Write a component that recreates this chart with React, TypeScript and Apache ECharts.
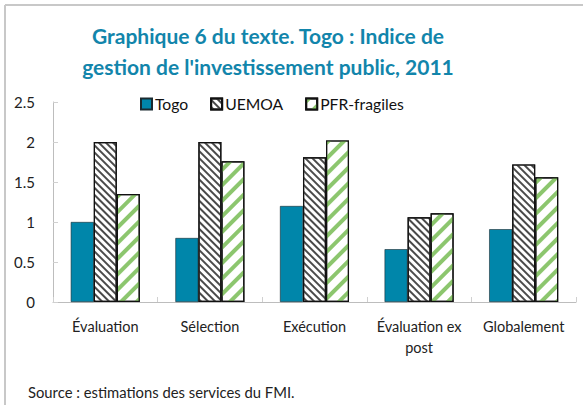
import React, { useEffect, useRef } from "react";
import * as echarts from "echarts";

const categories = ["Évaluation", "Sélection", "Exécution", "Évaluation ex\npost", "Globalement"];
const togo = [1.0, 0.8, 1.2, 0.66, 0.91];
const uemoa = [2.0, 2.0, 1.81, 1.06, 1.72];
const pfr = [1.35, 1.76, 2.02, 1.11, 1.56];
const seriesNames = ["Togo", "UEMOA", "PFR-fragiles"];
const titleText = "Graphique 6 du texte. Togo : Indice de\ngestion de l'investissement public, 2011";
const sourceText = "Source : estimations des services du FMI.";

const FONT = "Lato";

export default function App() {
  const ref = useRef<HTMLDivElement>(null);
  useEffect(() => {
    if (!ref.current) return;
    const chart = echarts.init(ref.current, null, { renderer: "svg" });
    chart.setOption({
      animation: false,
      backgroundColor: "#fff",
      legend: {
        top: 91,
        left: 135,
        itemWidth: 11,
        itemHeight: 11,
        itemGap: 22,
        icon: "rect",
        textStyle: { fontSize: 15.7, color: "#111", fontFamily: FONT, padding: [0, 0, 0, -2] },
        data: seriesNames,
      },
      grid: { left: 53, right: 7, top: 102, bottom: 103 },
      xAxis: {
        type: "category",
        data: categories,
        axisLine: { lineStyle: { color: "#bdbdbd", width: 1 } },
        axisTick: { show: true, inside: true, length: 5, lineStyle: { color: "#d0d0d0" } },
        axisLabel: { interval: 0, fontSize: 14.5, color: "#222", fontFamily: FONT, margin: 14, lineHeight: 21 },
      },
      yAxis: {
        type: "value",
        min: 0,
        max: 2.5,
        interval: 0.5,
        axisLine: { show: true, lineStyle: { color: "#bdbdbd" } },
        axisTick: { show: true, inside: true, length: 5, lineStyle: { color: "#d0d0d0" } },
        splitLine: { show: false },
        axisLabel: { fontSize: 15, color: "#222", fontFamily: FONT, margin: 18 },
      },
      series: [
        {
          name: seriesNames[0],
          type: "bar",
          data: togo,
          barWidth: "22%",
          barGap: "0%",
          itemStyle: { color: "#0086aa", borderColor: "#1a2a30", borderWidth: 0.6 },
        },
        {
          name: seriesNames[1],
          type: "bar",
          data: uemoa,
          barWidth: "22%",
          barGap: "0%",
          itemStyle: {
            color: "#ffffff",
            borderColor: "#111",
            borderWidth: 1.2,
            decal: {
              symbol: "rect",
              symbolSize: 1,
              color: "#4a4a4a",
              dashArrayX: [1, 0],
              dashArrayY: [2, 2.7],
              rotation: Math.PI / 4,
            },
          },
        },
        {
          name: seriesNames[2],
          type: "bar",
          data: pfr,
          barWidth: "22%",
          barGap: "0%",
          itemStyle: {
            color: "#ffffff",
            borderColor: "#111",
            borderWidth: 1.2,
            decal: {
              symbol: "rect",
              symbolSize: 1,
              color: "#8cc66e",
              dashArrayX: [1, 0],
              dashArrayY: [4, 6.5],
              rotation: -Math.PI / 4,
            },
          },
        },
      ],
      graphic: [
        { type: "line", shape: { x1: 5, y1: 5, x2: 583, y2: 5 }, style: { stroke: "#c8c8c8", lineWidth: 2 } },
        { type: "line", shape: { x1: 5, y1: 5, x2: 5, y2: 405 }, style: { stroke: "#c8c8c8", lineWidth: 2 } },
        {
          type: "text",
          x: 268,
          y: 20,
          style: {
            text: titleText,
            fontSize: 21,
            fontWeight: "bold",
            fontFamily: FONT,
            fill: "#1285ab",
            lineHeight: 31,
            align: "center",
            verticalAlign: "top",
          },
        },
        {
          type: "text",
          left: 28,
          top: 384,
          style: { text: sourceText, fontSize: 14.8, fill: "#222", fontFamily: FONT },
        },
      ],
    });
    return () => chart.dispose();
  }, []);
  return <div ref={ref} style={{ width: 583, height: 405, position: "absolute", left: 0, top: 0 }} />;
}
